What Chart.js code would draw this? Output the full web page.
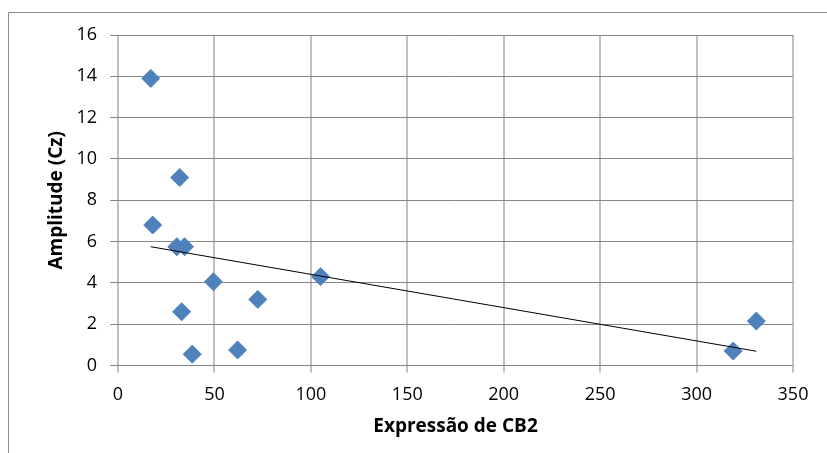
<!DOCTYPE html>
<html><head><meta charset="utf-8">
<script src="https://cdn.jsdelivr.net/npm/chart.js@4"></script>
<style>html,body{margin:0;padding:0;background:#fff}</style>
</head><body>
<canvas id="c" width="827" height="453"></canvas>
<script>
const xValues = [17, 32, 18, 30.5, 34.5, 49.5, 33, 38.5, 62, 72.5, 105, 319, 331];
const yValues = [13.9, 9.1, 6.8, 5.75, 5.75, 4.05, 2.6, 0.55, 0.75, 3.2, 4.3, 0.7, 2.15];
const trendX = [17, 331];
const trendY = [5.75, 0.69];
const xTitle = 'Expressão de CB2';
const yTitle = 'Amplitude (Cz)';

const FONT = "'Open Sans', sans-serif";

const frame = {
  id: 'frame',
  afterDraw(chart) {
    const ctx = chart.ctx;
    ctx.save();
    ctx.strokeStyle = '#8c8c8c';
    ctx.lineWidth = 1;
    ctx.beginPath();
    ctx.moveTo(8.5, 453);
    ctx.lineTo(8.5, 12.5);
    ctx.lineTo(827, 12.5);
    ctx.stroke();
    ctx.restore();
  }
};

new Chart(document.getElementById('c'), {
  type: 'scatter',
  data: {
    datasets: [
      {
        type: 'line',
        data: trendX.map((x, i) => ({x, y: trendY[i]})),
        borderColor: '#000',
        borderWidth: 1,
        pointRadius: 0,
        fill: false,
        order: 0
      },
      {
        data: xValues.map((x, i) => ({x, y: yValues[i]})),
        pointStyle: 'rectRot',
        pointRadius: 9,
        backgroundColor: '#4F81BD',
        borderColor: '#4F81BD',
        borderWidth: 1,
        order: 1
      }
    ]
  },
  options: {
    responsive: false,
    animation: false,
    layout: { padding: { left: 0, top: 35, right: 34, bottom: 0 } },
    plugins: { legend: { display: false }, tooltip: { enabled: false } },
    scales: {
      x: {
        type: 'linear', min: 0, max: 350,
        ticks: { stepSize: 50, color: '#000', font: { family: FONT, size: 18 }, padding: 11.5, maxRotation: 0 },
        grid: { color: '#C0C0C0', lineWidth: 2, tickLength: 7, tickColor: '#C0C0C0' },
        border: { display: false },
        title: { display: true, text: xTitle, color: '#000', font: { family: FONT, size: 19, weight: 'bold' }, padding: { top: 0, bottom: 15.3 } },
        afterFit(s) { s.height = 453 - 365.5; }
      },
      y: {
        min: 0, max: 16,
        ticks: { stepSize: 2, color: '#000', font: { family: FONT, size: 18 }, padding: 13 },
        grid: { color: '#878787', lineWidth: 1, tickLength: 8, tickColor: '#878787' },
        border: { display: false },
        title: { display: true, text: yTitle, color: '#000', font: { family: FONT, size: 19, weight: 'bold' }, padding: { top: 45, bottom: 0 } },
        afterFit(s) { s.width = 118; }
      }
    }
  },
  plugins: [frame]
});
</script>
</body></html>
